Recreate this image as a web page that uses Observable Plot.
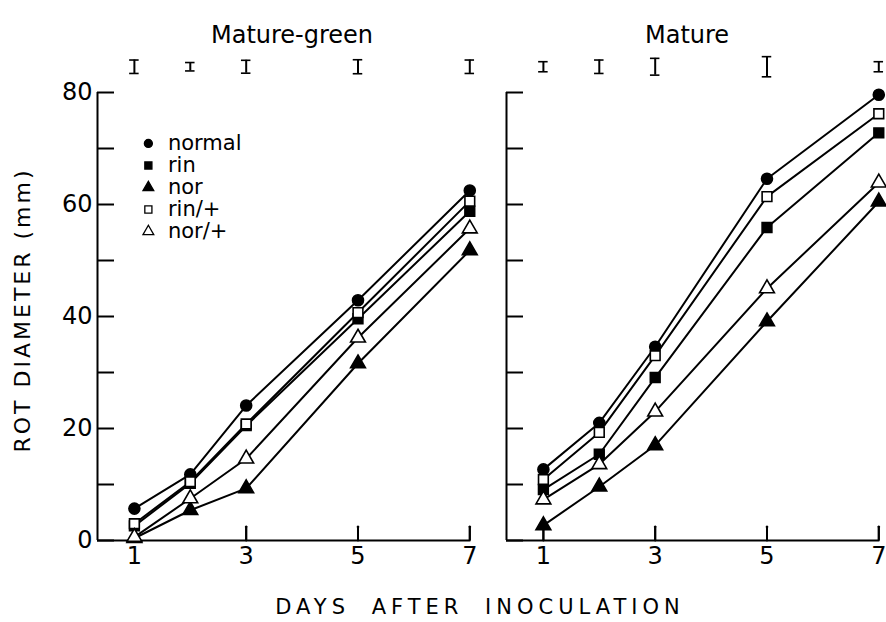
<!DOCTYPE html>
<html><head><meta charset="utf-8">
<script src="https://cdn.jsdelivr.net/npm/d3@7"></script>
<script src="https://cdn.jsdelivr.net/npm/@observablehq/plot@0.6"></script>
<style>body{margin:0;background:#fff}</style>
</head><body><div id="chart"></div>
<script>
const panels = ["Mature-green", "Mature"];
const days = [1, 2, 3, 5, 7];
const series = ["normal", "rin", "nor", "rin/+", "nor/+"];
const symbols = ["circle", "square", "triangle", "square", "triangle"];
const openSeries = ["rin/+", "nor/+"];
// Mature-green panel
const greenNormal  = [5.7, 11.8, 24.1, 42.9, 62.5];
const greenRin     = [2.6, 10.2, 20.5, 39.6, 58.8];
const greenNor     = [0.4, 5.4, 9.3, 31.6, 51.8];
const greenRinPlus = [3.0, 10.5, 20.8, 40.7, 60.6];
const greenNorPlus = [0.6, 7.5, 14.6, 36.2, 55.7];
// Mature panel
const matureNormal  = [12.7, 21.0, 34.6, 64.6, 79.6];
const matureRin     = [9.1, 15.4, 29.1, 55.9, 72.8];
const matureNor     = [2.7, 9.6, 17.0, 39.1, 60.5];
const matureRinPlus = [10.9, 19.3, 33.0, 61.4, 76.2];
const matureNorPlus = [7.3, 13.6, 23.0, 45.0, 63.9];
// LSD bars shown above each panel
const greenLSD  = [2.4, 1.5, 2.3, 2.5, 2.4];
const matureLSD = [1.8, 2.4, 3.0, 3.6, 1.8];
const xTicks = [1, 3, 5, 7];
const yTicks = [0, 20, 40, 60, 80];
const yMinor = [10, 30, 50, 70];
const yLabel = "ROT DIAMETER (mm)";
const xLabel = "DAYS AFTER INOCULATION";

const valuesBy = {
  "Mature-green": [greenNormal, greenRin, greenNor, greenRinPlus, greenNorPlus],
  "Mature": [matureNormal, matureRin, matureNor, matureRinPlus, matureNorPlus]
};
const lsdBy = {"Mature-green": greenLSD, "Mature": matureLSD};
const rows = [];
for (const p of panels) series.forEach((s, k) => days.forEach((d, j) => rows.push({panel: p, series: s, day: d, value: valuesBy[p][k][j]})));
const lsdRows = [];
for (const p of panels) days.forEach((d, j) => lsdRows.push({panel: p, day: d, lsd: lsdBy[p][j]}));
const legendRows = series.map((s, i) => ({panel: panels[0], series: s, i}));
const xTickRows = [];
for (const p of panels) xTicks.forEach(t => xTickRows.push({panel: p, day: t}));

const xDomain = [0.34, 7.12];
const lsdCenter = 84.6;
const capHalf = 0.085;
const xTickLen = 2.5;
const fillOf = s => openSeries.includes(s) ? "white" : "black";

const chart = Plot.plot({
  width: 886, height: 622,
  marginLeft: 97, marginRight: 0, marginTop: 92, marginBottom: 82,
  x: {domain: xDomain},
  y: {domain: [0, 80]},
  fx: {domain: panels, paddingInner: 0.0723, paddingOuter: 0, axis: null},
  symbol: {domain: series, range: symbols},
  color: {type: "identity"},
  style: {fontFamily: "DejaVu Sans", color: "black", background: "white", overflow: "visible"},
  marks: [
    // axis lines
    Plot.ruleX(panels, {fx: d => d, x: () => xDomain[0], y1: 0, y2: 80, strokeWidth: 2}),
    Plot.ruleY(panels, {fx: d => d, y: () => 0, x1: xDomain[0], x2: 7, strokeWidth: 2}),
    Plot.axisY({ticks: [...yTicks, ...yMinor], tickSize: -17, tickFormat: () => "", label: null, facetAnchor: null, strokeWidth: 2}),
    Plot.axisY({ticks: yTicks, tickSize: 0, tickPadding: 5, fontSize: 24, label: null}),
    // upward x ticks
    Plot.ruleX(xTickRows, {fx: "panel", x: "day", y1: () => 0, y2: () => xTickLen, strokeWidth: 2, stroke: "black"}),
    Plot.vector(xTickRows, {fx: "panel", x: "day", y: () => 0, length: 14, anchor: "start", rotate: 0, r: 0.5, strokeWidth: 2, stroke: "black"}),
    Plot.axisX({ticks: xTicks, tickSize: 0, tickPadding: 6, tickFormat: "d", fontSize: 24, label: null}),
    // panel titles
    Plot.text(panels, {fx: d => d, text: d => d, x: d => d === panels[0] ? 3.82 : 3.57, frameAnchor: "top", dy: -67, fontSize: 24}),
    // LSD bars
    Plot.ruleX(lsdRows, {fx: "panel", x: "day", y1: d => lsdCenter - d.lsd / 2, y2: d => lsdCenter + d.lsd / 2, strokeWidth: 2}),
    Plot.ruleY(lsdRows, {fx: "panel", y: d => lsdCenter + d.lsd / 2, x1: d => d.day - capHalf, x2: d => d.day + capHalf, strokeWidth: 1.6}),
    Plot.ruleY(lsdRows, {fx: "panel", y: d => lsdCenter - d.lsd / 2, x1: d => d.day - capHalf, x2: d => d.day + capHalf, strokeWidth: 1.6}),
    // data
    Plot.line(rows, {fx: "panel", x: "day", y: "value", z: d => d.panel + d.series, stroke: "black", strokeWidth: 2}),
    Plot.dot(rows, {fx: "panel", x: "day", y: "value", symbol: "series", fill: d => fillOf(d.series), stroke: "black", strokeWidth: 1.6, r: 5.5}),
    // legend
    Plot.dot(legendRows, {fx: "panel", x: () => 1.25, y: d => 70.9 - d.i * 3.93, symbol: "series", fill: d => fillOf(d.series), stroke: "black", strokeWidth: 1.3, r: 4}),
    Plot.text(legendRows, {fx: "panel", x: () => 1.6, y: d => 70.9 - d.i * 3.93, text: "series", textAnchor: "start", fontSize: 21})
  ]
});
document.getElementById("chart").appendChild(chart);
const svg = d3.select(chart);
svg.append("text").attr("transform", "translate(24,310) rotate(-90)")
  .attr("text-anchor", "middle").attr("dominant-baseline", "middle")
  .attr("font-family", "DejaVu Sans").attr("font-size", 22).attr("letter-spacing", 3)
  .attr("fill", "black").text(yLabel);
svg.append("text").attr("x", 480).attr("y", 608)
  .attr("text-anchor", "middle").attr("dominant-baseline", "middle")
  .attr("font-family", "DejaVu Sans").attr("font-size", 21).attr("letter-spacing", 5).attr("word-spacing", 10)
  .attr("fill", "black").text(xLabel);
</script>
</body></html>
